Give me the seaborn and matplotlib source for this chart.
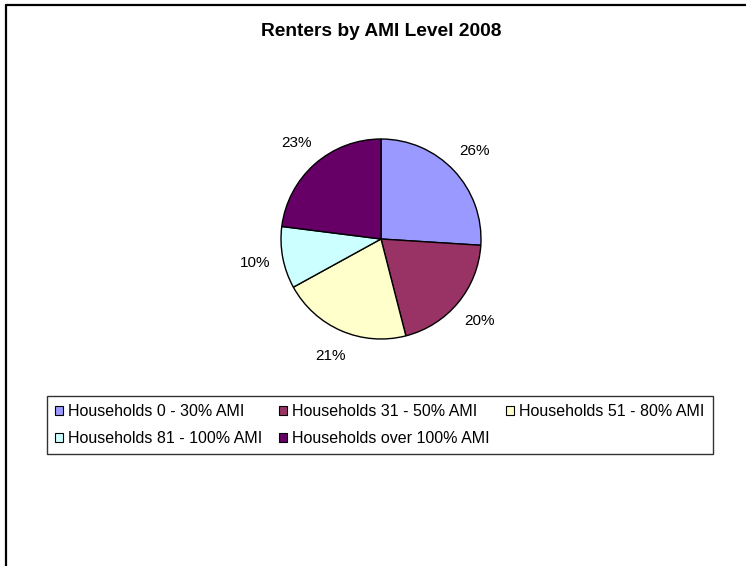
import matplotlib
matplotlib.use("Agg")
import matplotlib.pyplot as plt
import seaborn as sns
from matplotlib.patches import Patch
from matplotlib.lines import Line2D

# Renter households by Area Median Income band, 2008 (percent)
categories = [
    "Households 0 - 30% AMI",
    "Households 31 - 50% AMI",
    "Households 51 - 80% AMI",
    "Households 81 - 100% AMI",
    "Households over 100% AMI",
]
shares = [26, 20, 21, 10, 23]
colors = ["#9999FF", "#993366", "#FFFFCC", "#CCFFFF", "#660066"]
title = "Renters by AMI Level 2008"

sns.set_theme(style="white")
plt.rcParams["font.family"] = ["Liberation Sans", "DejaVu Sans"]
plt.rcParams["text.color"] = "black"
palette = sns.color_palette(colors)

W, H = 746, 566
fig = plt.figure(figsize=(W / 100, H / 100), dpi=100)

# pie axes: centre (381, 239) px, radius 100 px
cx, cy, r = 381, 239, 100
ax = fig.add_axes([(cx - r) / W, 1 - (cy + r) / H, 2 * r / W, 2 * r / H])
wedges, texts, autotexts = ax.pie(
    shares,
    colors=palette,
    startangle=90,
    counterclock=False,
    radius=1,
    autopct=lambda p: f"{p:.0f}%",
    pctdistance=1.28,
    wedgeprops=dict(edgecolor="black", linewidth=1.0),
    textprops=dict(fontsize=11, color="black"),
)
ax.set_xlim(-1, 1)
ax.set_ylim(-1, 1)
ax.set_aspect("equal")
ax.axis("off")

fig.text(cx / W, 1 - 32 / H, title, ha="center", va="center",
         fontsize=13.8, fontweight="bold", color="black")

# legend laid out row-wise in three columns
order = [0, 3, 1, 4, 2]
handles = [Patch(facecolor=palette[i], edgecolor="black", linewidth=0.8) for i in order]
labels = [categories[i] for i in order]
leg = fig.legend(
    handles, labels,
    loc="upper center",
    bbox_to_anchor=(380 / W, 1 - 396 / H),
    ncol=3,
    fontsize=11.5,
    labelcolor="black",
    frameon=True,
    fancybox=False,
    borderaxespad=0,
    borderpad=0.5,
    labelspacing=0.75,
    handlelength=0.5,
    handleheight=0.5,
    handletextpad=0.3,
    columnspacing=1.05,
)
leg.get_frame().set_edgecolor("black")
leg.get_frame().set_linewidth(1.0)

# chart-area border (left and top edges)
fig.add_artist(Line2D([5.5 / W, 5.5 / W], [0, 1 - 4.5 / H], transform=fig.transFigure,
                      color="black", linewidth=1.6))
fig.add_artist(Line2D([5.5 / W, 1], [1 - 4.5 / H, 1 - 4.5 / H], transform=fig.transFigure,
                      color="black", linewidth=1.6))

fig.savefig("out.png", dpi=100, facecolor="white")
